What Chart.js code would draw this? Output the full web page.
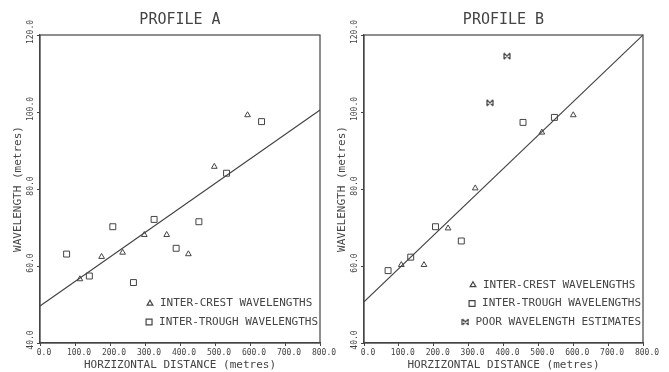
<!DOCTYPE html>
<html>
<head>
<meta charset="utf-8">
<script src="https://cdn.jsdelivr.net/npm/chart.js@4.4.1/dist/chart.umd.min.js"></script>
<style>
  html, body { margin: 0; padding: 0; background: #fff; }
  body { width: 669px; height: 372px; position: relative; overflow: hidden; }
  .panel { position: absolute; top: 0; height: 372px; }
  #panelA { left: 0; width: 345px; }
  #panelB { left: 324px; width: 345px; }
</style>
</head>
<body>
<div class="panel" id="panelA"><canvas id="chartA"></canvas></div>
<div class="panel" id="panelB"><canvas id="chartB"></canvas></div>
<script>
// Profile A measurements (distance m, wavelength m)
const crestAx = [114, 176, 236, 298, 362, 424, 498, 593];
const crestAy = [56.6, 62.4, 63.5, 68.1, 68.1, 63.1, 85.8, 99.2];
const troughAx = [76, 141, 208, 267, 326, 389, 454, 533, 633];
const troughAy = [63.1, 57.4, 70.2, 55.7, 72.1, 64.6, 71.5, 84.1, 97.5];
const fitAx = [0, 800];
const fitAy = [49.6, 100.5];

// Profile B measurements
const crestBx = [107, 172, 241, 319, 510, 600];
const crestBy = [60.3, 60.3, 69.8, 80.2, 94.7, 99.2];
const troughBx = [69, 134, 205, 279, 456, 546];
const troughBy = [58.8, 62.3, 70.2, 66.5, 97.3, 98.6];
const poorBx = [361, 410];
const poorBy = [102.4, 114.5];
const fitBx = [0, 800];
const fitBy = [50.7, 120];

// Axis settings
const xTicks = [0, 100, 200, 300, 400, 500, 600, 700, 800];
const yTicks = [40, 60, 80, 100, 120];
const xTitle = 'HORZIZONTAL DISTANCE (metres)';
const yTitle = 'WAVELENGTH (metres)';
const keyCrest = 'INTER-CREST WAVELENGTHS';
const keyTrough = 'INTER-TROUGH WAVELENGTHS';
const keyPoor = 'POOR WAVELENGTH ESTIMATES';

const INK = '#444';
const FONT = '"DejaVu Sans Mono", monospace';

function pts(xs, ys) {
  return xs.map((x, i) => ({ x: x, y: ys[i] }));
}

// bow-tie marker used for the poor estimates
function poorMark() {
  const c = document.createElement('canvas');
  c.width = 8; c.height = 8;
  const g = c.getContext('2d');
  g.strokeStyle = INK;
  g.lineWidth = 1.2;
  g.beginPath();
  g.moveTo(1, 1); g.lineTo(7, 7);
  g.moveTo(7, 1); g.lineTo(1, 7);
  g.moveTo(1, 1); g.lineTo(1, 7);
  g.moveTo(7, 1); g.lineTo(7, 7);
  g.stroke();
  return c;
}
const poorStyle = poorMark();

function scatterSet(label, data, style, r) {
  return {
    type: 'scatter',
    label: label,
    data: data,
    pointStyle: style,
    pointRadius: r,
    pointBorderWidth: 1,
    borderColor: INK,
    backgroundColor: 'rgba(0,0,0,0)',
    showKey: true
  };
}

function fitSet(data) {
  return {
    type: 'line',
    label: 'fit',
    data: data,
    borderColor: INK,
    borderWidth: 1.1,
    pointRadius: 0,
    fill: false,
    showKey: false
  };
}

// box round the plot, heading, tick labels in plotter style and key inside the plot
const framePlugin = {
  id: 'frame',
  afterDatasetsDraw(chart, args, opts) {
    const { ctx, chartArea: a } = chart;
    ctx.save();
    ctx.strokeStyle = INK;
    ctx.lineWidth = 1.2;
    ctx.strokeRect(a.left, a.top, a.right - a.left, a.bottom - a.top);

    ctx.fillStyle = INK;
    ctx.font = '15px ' + FONT;
    ctx.textAlign = 'center';
    ctx.textBaseline = 'middle';
    ctx.fillText(opts.heading, (a.left + a.right) / 2, 20);

    // x tick labels sit a little right of their ticks
    const xs = chart.scales.x;
    ctx.font = '8px ' + FONT;
    xs.ticks.forEach(t => {
      ctx.fillText(t.value.toFixed(1), xs.getPixelForValue(t.value) + 4, a.bottom + 10);
    });

    // y tick labels read bottom to top
    const ys = chart.scales.y;
    ys.ticks.forEach(t => {
      const py = ys.getPixelForValue(t.value);
      ctx.save();
      ctx.translate(a.left - 9, py - 3);
      ctx.rotate(-Math.PI / 2);
      ctx.fillText(t.value.toFixed(1), 0, 0);
      ctx.restore();
    });

    const items = chart.data.datasets.filter(d => d.showKey);
    ctx.font = '11px ' + FONT;
    ctx.textAlign = 'left';
    items.forEach((d, i) => {
      const y = a.bottom - 21 - (items.length - 1 - i) * 18.5;
      const w = ctx.measureText(d.label).width;
      const tx = Math.min(a.right - 160, a.right - 2 - w);
      ctx.fillStyle = INK;
      ctx.fillText(d.label, tx, y);
      ctx.fillStyle = 'rgba(0,0,0,0)';
      Chart.helpers.drawPoint(ctx, {
        pointStyle: d.pointStyle,
        radius: d.pointRadius,
        borderWidth: 1,
        rotation: 0
      }, tx - 10, y);
    });
    ctx.restore();
  }
};

function makeChart(id, heading, datasets, padRight) {
  return new Chart(document.getElementById(id), {
    data: { datasets: datasets },
    plugins: [framePlugin],
    options: {
      responsive: true,
      maintainAspectRatio: false,
      animation: false,
      layout: { padding: { top: 35, right: padRight, left: 0, bottom: 0 } },
      plugins: {
        legend: { display: false },
        tooltip: { enabled: false },
        frame: { heading: heading }
      },
      scales: {
        x: {
          type: 'linear',
          min: 0,
          max: 800,
          afterBuildTicks: s => { s.ticks = xTicks.map(v => ({ value: v })); },
          afterFit: s => { s.height = 29; },
          ticks: { display: false },
          grid: { drawOnChartArea: false, drawTicks: true, tickLength: 3, color: INK },
          border: { display: true, color: INK, width: 1.2 },
          title: {
            display: true,
            text: xTitle,
            color: INK,
            font: { family: FONT, size: 11 },
            padding: { top: 0, bottom: 0 }
          }
        },
        y: {
          type: 'linear',
          min: 40,
          max: 120,
          afterBuildTicks: s => { s.ticks = yTicks.map(v => ({ value: v })); },
          afterFit: s => { s.width = 40; },
          ticks: { display: false },
          grid: { drawOnChartArea: false, drawTicks: true, tickLength: 3, color: INK },
          border: { display: true, color: INK, width: 1.2 },
          title: {
            display: true,
            text: yTitle,
            color: INK,
            font: { family: FONT, size: 11 },
            padding: { top: 12, bottom: 0 }
          }
        }
      }
    }
  });
}

makeChart('chartA', 'PROFILE A', [
  scatterSet(keyCrest, pts(crestAx, crestAy), 'triangle', 3.3),
  scatterSet(keyTrough, pts(troughAx, troughAy), 'rect', 4.2),
  fitSet(pts(fitAx, fitAy))
], 25);

makeChart('chartB', 'PROFILE B', [
  scatterSet(keyCrest, pts(crestBx, crestBy), 'triangle', 3.3),
  scatterSet(keyTrough, pts(troughBx, troughBy), 'rect', 4.2),
  scatterSet(keyPoor, pts(poorBx, poorBy), poorStyle, 4),
  fitSet(pts(fitBx, fitBy))
], 26);
</script>
</body>
</html>
